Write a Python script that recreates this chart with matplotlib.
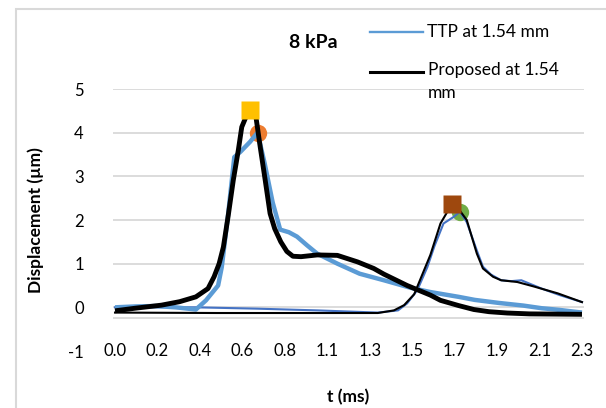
import matplotlib
matplotlib.use('Agg')
import matplotlib.pyplot as plt
from matplotlib.patches import Rectangle
from matplotlib.lines import Line2D

plt.rcParams['font.family'] = ['Lato', 'DejaVu Sans']

# TTP at 1.54 mm, first pulse (thick)
t_ttp1 = [0, 0.1, 0.2, 0.3, 0.40, 0.45, 0.51, 0.528, 0.56, 0.59, 0.62, 0.668, 0.705,
          0.74, 0.78, 0.817, 0.86, 0.90, 0.95, 1.0, 1.10, 1.21, 1.33, 1.46, 1.56,
          1.70, 1.78, 1.90, 2.02, 2.11, 2.20, 2.31]
d_ttp1 = [0.0, 0.02, 0.03, 0.0, -0.05, 0.16, 0.5, 0.92, 2.15, 3.44, 3.56, 3.79, 4.0,
          3.3, 2.4, 1.78, 1.72, 1.62, 1.42, 1.23, 1.0, 0.77, 0.62, 0.45, 0.35,
          0.24, 0.17, 0.10, 0.04, -0.02, -0.06, -0.12]

# Proposed at 1.54 mm, first pulse (thick)
t_prop1 = [0, 0.1, 0.23, 0.32, 0.40, 0.46, 0.49, 0.515, 0.536, 0.56, 0.585, 0.61, 0.627,
           0.645, 0.67, 0.698, 0.718, 0.743, 0.767, 0.79, 0.82, 0.85, 0.88, 0.92, 1.0,
           1.10, 1.20, 1.28, 1.33, 1.445, 1.56, 1.61, 1.70, 1.775, 1.85, 1.94, 2.05, 2.31]
d_prop1 = [-0.08, -0.02, 0.05, 0.13, 0.24, 0.43, 0.7, 1.0, 1.38, 2.1, 2.91, 3.6, 4.13,
           4.33, 4.53, 4.33, 3.68, 2.91, 2.15, 1.8, 1.5, 1.28, 1.17, 1.16, 1.2,
           1.19, 1.04, 0.89, 0.76, 0.5, 0.28, 0.16, 0.04, -0.05, -0.1, -0.13, -0.15, -0.16]

# TTP at 1.54 mm, second pulse (thin)
t_ttp2 = [0, 0.4, 0.7, 1.0, 1.30, 1.40, 1.445, 1.495, 1.545, 1.58, 1.625, 1.675, 1.706,
          1.74, 1.79, 1.82, 1.86, 1.91, 1.96, 2.01, 2.11, 2.2, 2.31]
d_ttp2 = [0.0, 0.0, -0.03, -0.07, -0.12, -0.07, 0.09, 0.39, 0.92, 1.4, 1.92, 2.07, 2.19,
          1.95, 1.3, 0.93, 0.75, 0.62, 0.6, 0.62, 0.43, 0.28, 0.12]

# Proposed at 1.54 mm, second pulse (thin)
t_prop2 = [0, 0.5, 1.0, 1.30, 1.38, 1.43, 1.48, 1.52, 1.56, 1.61, 1.667, 1.70, 1.74,
           1.79, 1.82, 1.87, 1.91, 1.99, 2.07, 2.19, 2.31]
d_prop2 = [-0.12, -0.13, -0.13, -0.13, -0.07, 0.05, 0.3, 0.75, 1.2, 1.92, 2.37, 2.25, 2.0,
           1.23, 0.89, 0.7, 0.62, 0.58, 0.48, 0.32, 0.12]

# peak markers
peak_sq1 = (0.67, 4.53)
peak_ci1 = (0.705, 4.0)
peak_sq2 = (1.667, 2.37)
peak_ci2 = (1.706, 2.19)

xtick_pos = [i * 0.21 for i in range(12)]
xtick_lab = ['0.0', '0.2', '0.4', '0.6', '0.8', '1.1', '1.3', '1.5', '1.7', '1.9', '2.1', '2.3']
ytick_pos = [-1, 0, 1, 2, 3, 4, 5]

grid_c = '#D9D9D9'
W, H = 606, 408

fig = plt.figure(figsize=(6.06, 4.08), dpi=100)
ax = fig.add_axes([113 / W, 1 - 351 / H, 471 / W, 262 / H])

fig.patches.append(Rectangle((16 / W, -0.1), 1.2, (H - 9) / H + 0.1,
                             transform=fig.transFigure, fill=False,
                             edgecolor=grid_c, lw=1.5))

for yv in ytick_pos[1:]:
    ax.axhline(yv, color=grid_c, lw=1.3, zorder=0)
ax.axhline(-0.25, color=grid_c, lw=1.3, zorder=0)

ax.plot(t_ttp2, d_ttp2, color='#4472C4', lw=1.5, zorder=2)
ax.plot(t_prop2, d_prop2, color='black', lw=1.5, zorder=3)
ax.plot(t_ttp1, d_ttp1, color='#5B9BD5', lw=3.2, zorder=2, solid_capstyle='butt')
ax.plot(t_prop1, d_prop1, color='black', lw=3.5, zorder=3, solid_capstyle='butt')

ax.plot(*peak_ci1, 'o', color='#ED7D31', ms=12.5, mec='none', zorder=1.5)
ax.plot(*peak_ci2, 'o', color='#70AD47', ms=12.5, mec='none', zorder=1.5)
ax.plot(*peak_sq1, 's', color='#FFC000', ms=13, mec='none', zorder=4)
ax.plot(*peak_sq2, 's', color='#9E480E', ms=13, mec='none', zorder=4)

ax.set_xlim(-0.01, 2.32)
ax.set_ylim(-1, 5)
for s in ax.spines.values():
    s.set_visible(False)

ax.set_xticks(xtick_pos)
ax.set_xticklabels(xtick_lab, fontsize=12)
ax.set_yticks(ytick_pos)
ax.set_yticklabels([str(v) for v in ytick_pos], fontsize=12)
ax.tick_params(axis='x', length=0, pad=-5.5)
ax.tick_params(axis='y', length=0, pad=21)

ax.set_ylabel('Displacement (µm)', fontsize=12.5, fontweight='bold')
ax.yaxis.set_label_coords(-0.146, 0.5)
ax.set_xlabel('t (ms)', fontsize=12.5, fontweight='bold')
ax.xaxis.set_label_coords(0.499, -0.176)
ax.xaxis.label.set_va('center')

fig.text(313 / W, 1 - 43 / H, '8 kPa', fontsize=14, fontweight='bold',
         ha='center', va='center')

# legend, laid out like the Excel one (handle level with first text line)
fig.add_artist(Line2D([370 / W, 423 / W], [1 - 32 / H] * 2, color='#5B9BD5', lw=1.7,
                      transform=fig.transFigure))
fig.text(427 / W, 1 - 32 / H, 'TTP at 1.54 mm', fontsize=12.5, va='center', ha='left')
fig.add_artist(Line2D([370 / W, 423 / W], [1 - 72 / H] * 2, color='black', lw=2.2,
                      transform=fig.transFigure))
fig.text(428 / W, 1 - 62 / H, 'Proposed at 1.54\nmm', fontsize=12.5, va='top', ha='left',
         linespacing=1.55)

fig.savefig('out.png', dpi=100)
